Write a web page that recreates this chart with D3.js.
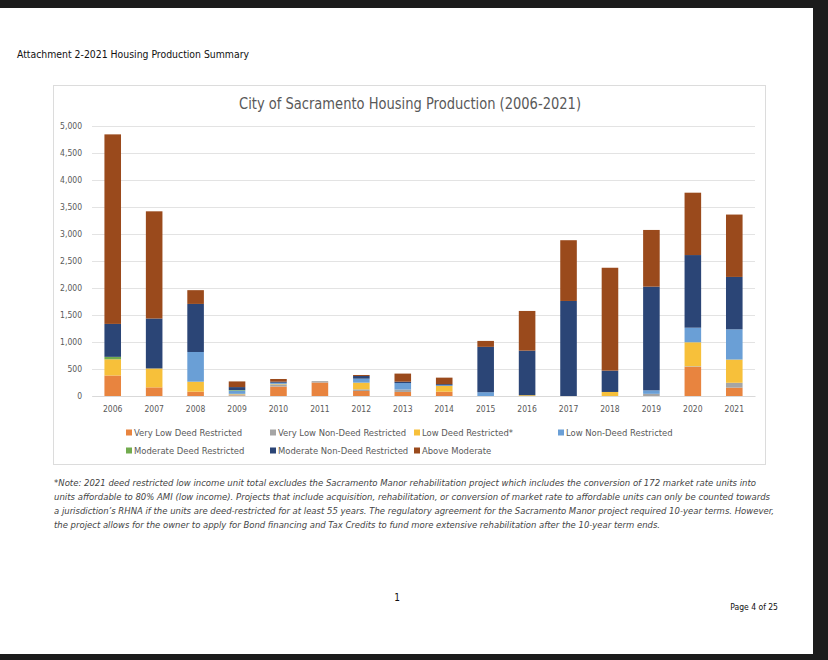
<!DOCTYPE html>
<html>
<head>
<meta charset="utf-8">
<script src="https://cdn.jsdelivr.net/npm/d3@7"></script>
<style>
  body { margin: 0; background: #fff; }
  svg { display: block; }
</style>
</head>
<body>
<div class="chart"></div>
<script>
// values (units per year)
let years = ['2006','2007','2008','2009','2010','2011','2012','2013','2014','2015','2016','2017','2018','2019','2020','2021'];
let veryLowDeed     = [380, 160,  80,  10, 175, 250,  93,  75,  80,   0,   0,    0,    0,    0,  540,  155];
let veryLowNonDeed  = [  0,   0,   0,  20,  40,  25,  30,  45,   0,   0,   0,    0,    0,   40,   10,   90];
let lowDeed         = [300, 350, 185,  10,  10,   0, 124,   0, 105,   0,  15,    0,   75,    0,  445,  430];
let lowNonDeed      = [  0,   0, 550,  60,  20,   0,  74, 120,  15,  70,   0,    0,    0,   65,  270,  560];
let moderateDeed    = [ 45,   0,   0,  10,   0,   0,   0,   0,   0,   0,   0,    0,    0,    0,    0,    0];
let moderateNonDeed = [610, 925, 890,  55,  20,   0,  49,  25,  20, 840, 825, 1760,  395, 1920, 1345,  970];
let aboveModerate   = [3510,1985, 255, 105,  50,   0,  19, 150, 120, 110, 735, 1125, 1905, 1050, 1155, 1155];

let seriesNames = ['Very Low Deed Restricted', 'Very Low Non-Deed Restricted', 'Low Deed Restricted*',
  'Low Non-Deed Restricted', 'Moderate Deed Restricted', 'Moderate Non-Deed Restricted', 'Above Moderate'];
let yTicks = [0, 500, 1000, 1500, 2000, 2500, 3000, 3500, 4000, 4500, 5000];

let noteLines = [
  '*Note: 2021 deed restricted low income unit total excludes the Sacramento Manor rehabilitation project which includes the conversion of 172 market rate units into',
  'units affordable to 80% AMI (low income). Projects that include acquisition, rehabilitation, or conversion of market rate to affordable units can only be counted towards',
  'a jurisdiction\u2019s RHNA if the units are deed-restricted for at least 55 years. The regulatory agreement for the Sacramento Manor project required 10-year terms. However,',
  'the project allows for the owner to apply for Bond financing and Tax Credits to fund more extensive rehabilitation after the 10-year term ends.'
];

let config = {
  width: 828,
  height: 660,
  colors: ['#E8843F', '#A5A5A5', '#F7C03A', '#6A9FD6', '#72AB4E', '#2B4576', '#9A4A1C'],
  font: '"Liberation Sans Narrow", "DejaVu Sans Condensed", Roboto, sans-serif',
  textColor: '#595959',
  gridColor: '#E3E3E3',
  plotLeft: 92, plotRight: 755, plotTop: 126, plotBottom: 396
};

let svg = d3.select('div.chart').append('svg')
  .attr('width', config.width)
  .attr('height', config.height);

svg.append('rect').attr('width', config.width).attr('height', config.height).attr('fill', '#fff');

// dark screenshot frame
svg.append('rect').attr('x', 0).attr('y', 0).attr('width', config.width).attr('height', 8).attr('fill', '#1c1c1c');
svg.append('rect').attr('x', 813).attr('y', 0).attr('width', 15).attr('height', config.height).attr('fill', '#1c1c1c');
svg.append('rect').attr('x', 0).attr('y', 654).attr('width', config.width).attr('height', 6).attr('fill', '#1c1c1c');

svg.append('text')
  .attr('x', 17).attr('y', 58)
  .attr('font-family', config.font).attr('font-size', 10.5)
  .attr('fill', '#111')
  .attr('textLength', 232).attr('lengthAdjust', 'spacingAndGlyphs')
  .text('Attachment 2-2021 Housing Production Summary');

// chart frame
svg.append('rect')
  .attr('x', 53.5).attr('y', 85.5).attr('width', 712).attr('height', 379)
  .attr('fill', 'none').attr('stroke', '#DCDCDC');

svg.append('text')
  .attr('x', 410).attr('y', 109)
  .attr('text-anchor', 'middle')
  .attr('font-family', config.font).attr('font-size', 15.5)
  .attr('fill', config.textColor)
  .attr('textLength', 342).attr('lengthAdjust', 'spacingAndGlyphs')
  .text('City of Sacramento Housing Production (2006-2021)');

let x = d3.scaleBand()
  .domain(years)
  .range([config.plotLeft, config.plotRight])
  .paddingInner(0.6)
  .paddingOuter(0.3);

let y = d3.scaleLinear()
  .domain([0, 5000])
  .range([config.plotBottom, config.plotTop]);

// grid + y labels
let yAxis = svg.append('g')
  .attr('transform', 'translate(' + config.plotLeft + ',0)')
  .call(d3.axisLeft(y).tickValues(yTicks).tickSize(-(config.plotRight - config.plotLeft))
    .tickPadding(10).tickFormat(d3.format(',')));
yAxis.select('.domain').remove();
yAxis.selectAll('line').attr('stroke', config.gridColor);
yAxis.selectAll('text')
  .attr('font-family', config.font).attr('font-size', 8.5)
  .attr('fill', config.textColor);

// stacked bars
let table = years.map((yr, i) => ({
  year: yr,
  s0: veryLowDeed[i], s1: veryLowNonDeed[i], s2: lowDeed[i], s3: lowNonDeed[i],
  s4: moderateDeed[i], s5: moderateNonDeed[i], s6: aboveModerate[i]
}));
let keys = ['s0', 's1', 's2', 's3', 's4', 's5', 's6'];
let stacked = d3.stack().keys(keys)(table);

svg.append('g').selectAll('g')
  .data(stacked)
  .enter().append('g')
  .attr('fill', (d, i) => config.colors[i])
  .selectAll('rect')
  .data(d => d)
  .enter().append('rect')
  .attr('x', d => x(d.data.year))
  .attr('width', x.bandwidth())
  .attr('y', d => y(d[1]))
  .attr('height', d => y(d[0]) - y(d[1]));

// x axis baseline and labels
let xAxis = svg.append('g')
  .attr('transform', 'translate(0,' + config.plotBottom + ')')
  .call(d3.axisBottom(x).tickSize(0).tickPadding(10));
xAxis.select('.domain').attr('stroke', '#D9D9D9');
xAxis.selectAll('text')
  .attr('font-family', config.font).attr('font-size', 8.5)
  .attr('fill', config.textColor);

// legend
let legendX = [126, 270, 414, 558];
let legend = svg.append('g').selectAll('g')
  .data(seriesNames)
  .enter().append('g')
  .attr('transform', (d, i) => 'translate(' + legendX[i % 4] + ',' + (433 + Math.floor(i / 4) * 18) + ')');

legend.append('rect')
  .attr('x', 0).attr('y', -3.5).attr('width', 6).attr('height', 6)
  .attr('fill', (d, i) => config.colors[i]);
legend.append('text')
  .attr('x', 8).attr('y', 3)
  .attr('font-family', config.font).attr('font-size', 9.4)
  .attr('fill', config.textColor)
  .text(d => d);

// footnote
svg.append('g').selectAll('text')
  .data(noteLines)
  .enter().append('text')
  .attr('x', 54)
  .attr('y', (d, i) => 486 + i * 14)
  .attr('font-family', config.font).attr('font-size', 9)
  .attr('font-style', 'italic')
  .attr('fill', '#444')
  .attr('textLength', (d, i) => [702, 716, 720, 606][i])
  .attr('lengthAdjust', 'spacingAndGlyphs')
  .text(d => d);

svg.append('text')
  .attr('x', 397).attr('y', 601)
  .attr('text-anchor', 'middle')
  .attr('font-family', config.font).attr('font-size', 10)
  .attr('fill', '#111')
  .text('1');

svg.append('text')
  .attr('x', 778).attr('y', 610)
  .attr('text-anchor', 'end')
  .attr('font-family', config.font).attr('font-size', 8.5)
  .attr('fill', '#111')
  .text('Page 4 of 25');
</script>
</body>
</html>
